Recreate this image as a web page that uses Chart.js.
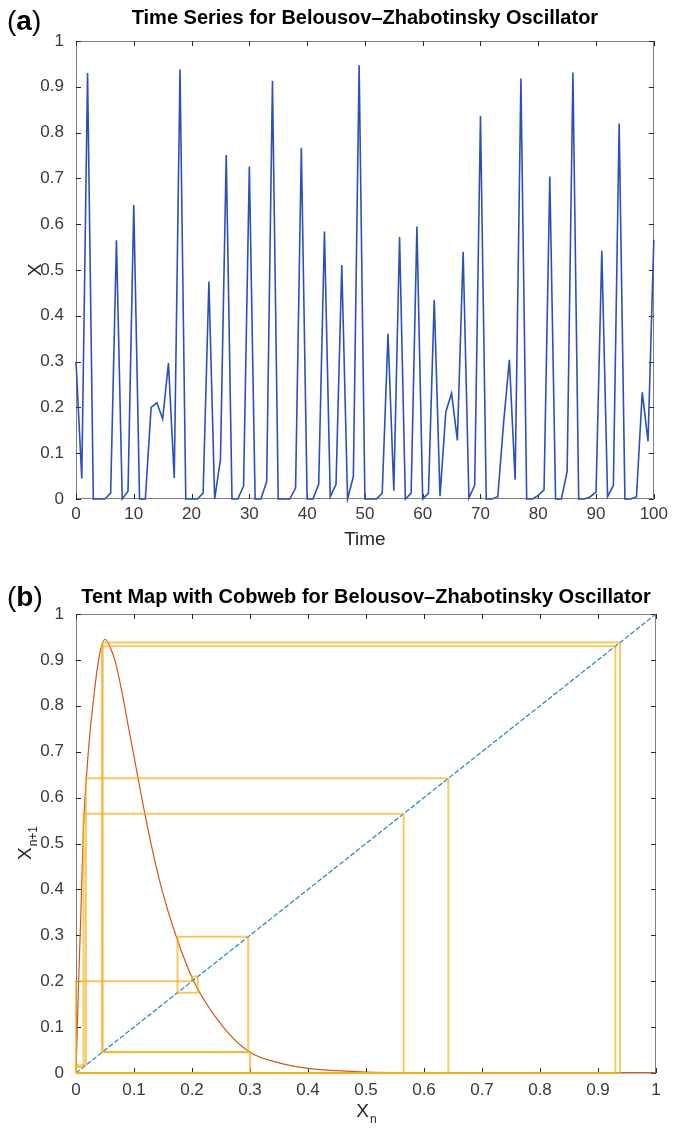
<!DOCTYPE html>
<html>
<head>
<meta charset="utf-8">
<title>Belousov-Zhabotinsky Oscillator</title>
<script src="https://cdn.jsdelivr.net/npm/chart.js@4.4.1/dist/chart.umd.min.js"></script>
<style>
  html, body { margin: 0; padding: 0; background: #fff; }
  #wrap { position: relative; width: 673px; height: 1129px; overflow: hidden; }
  .panel { position: absolute; left: 0; width: 673px; }
  #panel-a { top: 0; height: 560px; }
  #panel-b { top: 560px; height: 569px; }
</style>
</head>
<body>
<div id="wrap">
  <div class="panel" id="panel-a"><canvas id="time-series"></canvas></div>
  <div class="panel" id="panel-b"><canvas id="cobweb"></canvas></div>
</div>
<script>
/** DATA **/

// X(t) for t = 0, 1, ..., 100
var seriesX = [
  0.30, 0.045, 0.93, 0, 0, 0, 0.013, 0.565, 0, 0.017,
  0.642, 0, 0, 0.2, 0.21, 0.175, 0.297, 0.046, 0.938, 0,
  0, 0, 0.013, 0.475, 0, 0.086, 0.751, 0, 0, 0.028,
  0.726, 0, 0, 0.038, 0.913, 0, 0, 0, 0.024, 0.767,
  0, 0, 0.032, 0.584, 0.005, 0.032, 0.511, 0, 0.049, 0.947,
  0, 0, 0, 0.013, 0.361, 0.018, 0.572, 0, 0.013, 0.595,
  0, 0.013, 0.435, 0.006, 0.19, 0.231, 0.128, 0.54, 0.002, 0.03,
  0.836, 0, 0, 0.005, 0.166, 0.304, 0.042, 0.918, 0, 0,
  0.008, 0.02, 0.704, 0, 0, 0.06, 0.931, 0, 0, 0.005,
  0.015, 0.542, 0.005, 0.03, 0.82, 0, 0, 0.005, 0.233, 0.126,
  0.566
];

// the map X(n+1) = f(X(n)) (red curve)
var mapXn = [0, 0.002, 0.0045, 0.008, 0.013, 0.018, 0.024, 0.029, 0.036, 0.043,
  0.05, 0.058, 0.068, 0.08, 0.091, 0.1, 0.114, 0.131, 0.148, 0.172,
  0.203, 0.254, 0.3, 0.35, 0.4, 0.45, 0.5, 0.6, 0.7, 0.8, 0.9, 1];
var mapXn1 = [0, 0.09, 0.2, 0.33, 0.54, 0.645, 0.74, 0.8, 0.875, 0.925,
  0.945, 0.93, 0.895, 0.825, 0.75, 0.69, 0.595, 0.49, 0.4, 0.3,
  0.2, 0.1, 0.045, 0.022, 0.01, 0.005, 0.002, 0.0005, 0, 0, 0, 0];

// identity line
var diagX = [0, 1];

// number of cobweb steps drawn from the series
var cobwebSteps = 20;

// ticks
var timeTicks = [0, 10, 20, 30, 40, 50, 60, 70, 80, 90, 100];
var timeTickLabels = ['0', '10', '20', '30', '40', '50', '60', '70', '80', '90', '100'];
var unitTicks = [0, 0.1, 0.2, 0.3, 0.4, 0.5, 0.6, 0.7, 0.8, 0.9, 1];
var unitTickLabels = ['0', '0.1', '0.2', '0.3', '0.4', '0.5', '0.6', '0.7', '0.8', '0.9', '1'];

/** STYLE **/
var FONT = '"Liberation Sans", Arial, Helvetica, sans-serif';
Chart.defaults.font.family = FONT;
Chart.defaults.color = '#3a3a3a';
Chart.defaults.animation = false;

// matlab-like box with inward ticks on all four sides
var matlabAxes = {
  id: 'matlabAxes',
  beforeDatasetsDraw: function (chart) {
    var ctx = chart.ctx, a = chart.chartArea;
    var xs = chart.scales.x, ys = chart.scales.y;
    var len = 5;
    ctx.save();
    ctx.strokeStyle = '#808080';
    ctx.lineWidth = 1;
    ctx.strokeRect(Math.round(a.left) + 0.5, Math.round(a.top) + 0.5,
      Math.round(a.width) - 1, Math.round(a.height) - 1);
    ctx.strokeStyle = '#262626';
    ctx.beginPath();
    xs.ticks.forEach(function (t) {
      var px = Math.round(xs.getPixelForValue(t.value)) + 0.5;
      ctx.moveTo(px, a.bottom); ctx.lineTo(px, a.bottom - len);
      ctx.moveTo(px, a.top); ctx.lineTo(px, a.top + len);
    });
    ys.ticks.forEach(function (t) {
      var py = Math.round(ys.getPixelForValue(t.value)) + 0.5;
      ctx.moveTo(a.left, py); ctx.lineTo(a.left + len, py);
      ctx.moveTo(a.right, py); ctx.lineTo(a.right - len, py);
    });
    ctx.stroke();
    ctx.restore();
  }
};

// panel tag, title and subscripted axis labels
var panelText = {
  id: 'panelText',
  afterDraw: function (chart, args, o) {
    var ctx = chart.ctx, a = chart.chartArea;
    ctx.save();
    ctx.fillStyle = '#000';
    ctx.textBaseline = 'middle';
    // (a) / (b)
    ctx.textAlign = 'left';
    var x = o.tagX;
    ctx.font = '28px ' + FONT; ctx.fillText('(', x, o.tagY); x += ctx.measureText('(').width;
    ctx.font = 'bold 28px ' + FONT; ctx.fillText(o.tag, x, o.tagY); x += ctx.measureText(o.tag).width;
    ctx.font = '28px ' + FONT; ctx.fillText(')', x, o.tagY);
    // title
    ctx.textAlign = 'center';
    ctx.font = 'bold 20px ' + FONT;
    ctx.fillText(o.title, (a.left + a.right) / 2, o.titleY);
    // subscripted labels
    ctx.fillStyle = '#262626';
    if (o.xLabel) drawSub(ctx, o.xLabel[0], o.xLabel[1], (a.left + a.right) / 2, o.xLabelY, 0);
    if (o.yLabel) drawSub(ctx, o.yLabel[0], o.yLabel[1], o.yLabelX, (a.top + a.bottom) / 2, -Math.PI / 2);
    ctx.restore();
  }
};

function drawSub(ctx, main, sub, cx, cy, rot) {
  ctx.save();
  ctx.translate(cx, cy);
  ctx.rotate(rot);
  ctx.textAlign = 'left';
  ctx.font = '19px ' + FONT;
  var w1 = ctx.measureText(main).width;
  ctx.font = '12px ' + FONT;
  var w2 = ctx.measureText(sub).width;
  var x0 = -(w1 + w2) / 2;
  ctx.font = '19px ' + FONT;
  ctx.fillText(main, x0, 0);
  ctx.font = '12px ' + FONT;
  ctx.fillText(sub, x0 + w1 + 1, 8);
  ctx.restore();
}

function fixedTicks(values, labels, width, height) {
  return {
    ticks: {
      font: { size: 17 },
      color: '#3a3a3a',
      callback: function (v, i) { return labels[i]; }
    },
    afterBuildTicks: function (scale) {
      scale.ticks = values.map(function (v) { return { value: v }; });
    },
    afterFit: function (scale) {
      if (width) scale.width = width;
      if (height) scale.height = height;
    },
    grid: { display: false, drawTicks: false },
    border: { display: false }
  };
}

/** (a) TIME SERIES **/
var xA = fixedTicks(timeTicks, timeTickLabels, 0, 61);
xA.type = 'linear'; xA.min = 0; xA.max = 100; xA.ticks.padding = 5;
xA.title = { display: true, text: 'Time', font: { size: 19 }, color: '#262626', padding: { top: 0, bottom: 9 } };
var yA = fixedTicks(unitTicks, unitTickLabels, 76, 0);
yA.min = 0; yA.max = 1; yA.ticks.padding = 12;
yA.title = { display: true, text: 'X', font: { size: 19 }, color: '#262626', padding: { top: 24, bottom: 0 } };

new Chart(document.getElementById('time-series'), {
  type: 'scatter',
  data: {
    datasets: [{
      data: seriesX.map(function (v, t) { return { x: t, y: v }; }),
      showLine: true,
      borderColor: '#2a50ba',
      borderWidth: 1.6,
      pointRadius: 0,
      tension: 0,
      clip: 4
    }]
  },
  options: {
    responsive: true,
    maintainAspectRatio: false,
    layout: { padding: { top: 41, right: 17, left: 0, bottom: 0 } },
    scales: { x: xA, y: yA },
    plugins: {
      legend: { display: false },
      tooltip: { enabled: false },
      panelText: { tag: 'a', tagX: 7, tagY: 22, title: 'Time Series for Belousov\u2013Zhabotinsky Oscillator', titleY: 18 }
    }
  },
  plugins: [matlabAxes, panelText]
});

/** (b) MAP WITH COBWEB **/
var cobwebSets = [];
for (var n = 0; n < cobwebSteps; n++) {
  cobwebSets.push({
    data: [
      { x: seriesX[n], y: n === 0 ? 0 : seriesX[n] },
      { x: seriesX[n], y: seriesX[n + 1] },
      { x: seriesX[n + 1], y: seriesX[n + 1] }
    ],
    showLine: true,
    borderColor: 'rgba(241, 176, 28, 0.68)',
    borderWidth: 2,
    pointRadius: 0,
    tension: 0,
    clip: 4,
    order: 0
  });
}

var xB = fixedTicks(unitTicks, unitTickLabels, 0, 56);
xB.type = 'linear'; xB.min = 0; xB.max = 1; xB.ticks.padding = 7;
var yB = fixedTicks(unitTicks, unitTickLabels, 76, 0);
yB.min = 0; yB.max = 1; yB.ticks.padding = 12;

new Chart(document.getElementById('cobweb'), {
  type: 'scatter',
  data: {
    datasets: [{
      data: mapXn.map(function (v, i) { return { x: v, y: mapXn1[i] }; }),
      showLine: true,
      borderColor: '#d9531e',
      borderWidth: 1.2,
      pointRadius: 0,
      cubicInterpolationMode: 'monotone',
      clip: 4,
      order: 2
    }, {
      data: diagX.map(function (v) { return { x: v, y: v }; }),
      showLine: true,
      borderColor: '#1f84bd',
      borderWidth: 1.2,
      borderDash: [5, 2],
      pointRadius: 0,
      clip: 4,
      order: 1
    }].concat(cobwebSets)
  },
  options: {
    responsive: true,
    maintainAspectRatio: false,
    layout: { padding: { top: 54, right: 17, left: 0, bottom: 0 } },
    scales: { x: xB, y: yB },
    plugins: {
      legend: { display: false },
      tooltip: { enabled: false },
      panelText: {
        tag: 'b', tagX: 7, tagY: 38,
        title: 'Tent Map with Cobweb for Belousov\u2013Zhabotinsky Oscillator', titleY: 37,
        xLabel: ['X', 'n'], xLabelY: 552,
        yLabel: ['X', 'n+1'], yLabelX: 26
      }
    }
  },
  plugins: [matlabAxes, panelText]
});
</script>
</body>
</html>
